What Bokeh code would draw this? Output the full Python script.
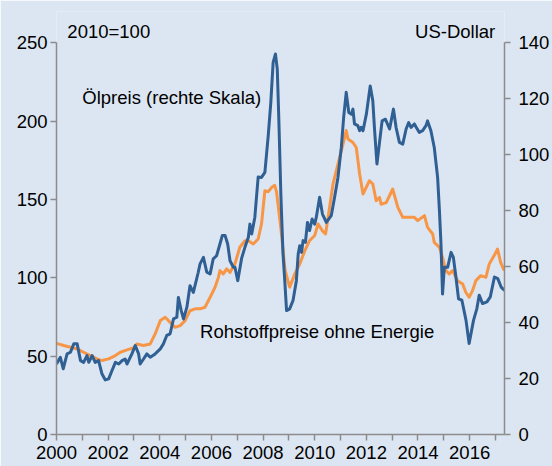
from bokeh.plotting import figure
from bokeh.models import Range1d, LinearAxis, FixedTicker, Label, NumeralTickFormatter
from bokeh.embed import file_html
from bokeh.resources import INLINE

# ---------------- data ----------------
# Rohstoffpreise ohne Energie (Index 2010=100, linke Skala)
t_rohstoff = [2000.00, 2000.28, 2000.54, 2000.80, 2001.05, 2001.31, 2001.57, 2001.76, 2002.02, 2002.28,
              2002.47, 2002.73, 2002.98, 2003.11, 2003.37, 2003.63, 2003.82, 2004.02, 2004.21, 2004.40,
              2004.59, 2004.79, 2004.98, 2005.17, 2005.37, 2005.56, 2005.75, 2005.95, 2006.14, 2006.27,
              2006.33, 2006.46, 2006.59, 2006.72, 2006.91, 2007.10, 2007.30, 2007.43, 2007.62, 2007.81,
              2007.94, 2008.07, 2008.20, 2008.35, 2008.45, 2008.52, 2008.70, 2008.85, 2009.03, 2009.23,
              2009.42, 2009.61, 2009.80, 2010.00, 2010.13, 2010.30, 2010.42, 2010.55, 2010.71, 2010.90,
              2011.09, 2011.22, 2011.29, 2011.48, 2011.61, 2011.74, 2011.87, 2012.12, 2012.25, 2012.38,
              2012.51, 2012.57, 2012.77, 2013.02, 2013.22, 2013.41, 2013.60, 2013.86, 2013.99, 2014.25,
              2014.37, 2014.57, 2014.63, 2014.83, 2014.95, 2015.08, 2015.21, 2015.34, 2015.53, 2015.73,
              2015.85, 2015.98, 2016.11, 2016.24, 2016.43, 2016.63, 2016.76, 2016.95, 2017.08, 2017.20,
              2017.34]
v_rohstoff = [58.2, 56.8, 55.7, 54.6, 52.5, 50.4, 48.3, 47.2, 48.3, 50.4,
              52.5, 54.0, 55.3, 57.8, 56.8, 57.8, 64.2, 72.7, 74.8, 71.6,
              68.4, 69.5, 72.7, 79.0, 80.2, 80.2, 81.2, 87.6, 94.0, 100.3,
              104.6, 102.5, 105.7, 103.5, 108.9, 119.5, 123.7, 123.7, 121.6, 124.8,
              134.5, 155.6, 155.0, 158.0, 159.0, 155.0, 130.0, 105.0, 94.0, 102.5,
              108.8, 117.0, 123.7, 127.0, 134.4, 130.0, 128.0, 142.0, 160.0, 172.6,
              185.0, 194.0, 188.6, 186.4, 183.2, 166.3, 153.5, 162.0, 159.9, 149.2,
              151.3, 147.0, 148.0, 156.7, 145.0, 138.6, 138.6, 138.6, 136.5, 139.7,
              132.2, 128.0, 122.6, 119.5, 113.0, 104.6, 102.5, 104.6, 98.2, 96.1,
              90.8, 87.6, 91.8, 98.2, 101.4, 100.3, 108.9, 114.2, 118.4, 109.9,
              104.6]

# Ölpreis (US-Dollar, rechte Skala)
t_oel = [2000.00, 2000.15, 2000.26, 2000.41, 2000.54, 2000.67, 2000.80, 2000.93, 2001.05, 2001.18,
         2001.25, 2001.38, 2001.50, 2001.63, 2001.76, 2001.89, 2002.02, 2002.15, 2002.28, 2002.41,
         2002.54, 2002.66, 2002.73, 2002.92, 2003.05, 2003.18, 2003.24, 2003.37, 2003.50, 2003.63,
         2003.82, 2004.02, 2004.14, 2004.27, 2004.40, 2004.53, 2004.66, 2004.72, 2004.83, 2004.92,
         2005.05, 2005.17, 2005.30, 2005.49, 2005.56, 2005.69, 2005.82, 2005.95, 2006.07, 2006.20,
         2006.33, 2006.42, 2006.53, 2006.63, 2006.72, 2006.85, 2006.91, 2007.02, 2007.17, 2007.30,
         2007.43, 2007.49, 2007.56, 2007.68, 2007.81, 2007.94, 2008.07, 2008.20, 2008.30, 2008.39,
         2008.48, 2008.55, 2008.61, 2008.69, 2008.77, 2008.84, 2008.91, 2009.03, 2009.16, 2009.29,
         2009.36, 2009.42, 2009.49, 2009.55, 2009.64, 2009.72, 2009.80, 2009.90, 2010.00, 2010.06,
         2010.19, 2010.30, 2010.45, 2010.64, 2010.77, 2010.90, 2011.03, 2011.12, 2011.22, 2011.32,
         2011.42, 2011.48, 2011.54, 2011.67, 2011.74, 2011.80, 2011.87, 2012.00, 2012.15, 2012.25,
         2012.32, 2012.41, 2012.51, 2012.61, 2012.74, 2012.90, 2013.05, 2013.15, 2013.28, 2013.41,
         2013.54, 2013.64, 2013.73, 2013.86, 2013.93, 2014.05, 2014.18, 2014.31, 2014.37, 2014.50,
         2014.63, 2014.76, 2014.83, 2014.89, 2014.95, 2015.02, 2015.15, 2015.28, 2015.37, 2015.47,
         2015.57, 2015.70, 2015.86, 2015.98, 2016.15, 2016.28, 2016.37, 2016.50, 2016.67, 2016.80,
         2016.96, 2017.09, 2017.22, 2017.35]
v_oel = [25.2, 27.6, 23.5, 28.8, 29.4, 32.4, 32.4, 26.4, 25.8, 28.2,
         25.8, 28.2, 25.8, 26.4, 21.7, 19.5, 19.9, 22.9, 25.8, 25.2,
         26.4, 27.0, 25.2, 28.8, 31.8, 28.8, 25.2, 27.0, 28.8, 27.6,
         28.8, 30.6, 32.4, 35.4, 36.0, 41.3, 41.9, 49.0, 44.3, 41.3,
         45.5, 53.2, 50.8, 58.0, 61.0, 63.3, 58.0, 57.4, 62.8, 63.9,
         68.1, 71.1, 71.1, 68.1, 62.1, 59.8, 59.8, 55.0, 63.0, 67.0,
         70.5, 75.2, 71.7, 77.6, 92.0, 91.9, 93.7, 106.8, 118.7, 133.0,
         136.0, 130.6, 112.8, 85.4, 65.0, 55.0, 44.3, 44.9, 47.9, 55.0,
         64.5, 67.5, 65.1, 69.3, 68.7, 75.8, 72.9, 77.0, 75.2, 77.6,
         84.8, 78.8, 75.8, 78.2, 84.8, 91.9, 102.6, 113.3, 122.3, 115.1,
         114.5, 116.3, 111.0, 110.4, 108.6, 109.8, 108.6, 114.5, 124.6, 119.3,
         108.6, 96.7, 104.4, 112.1, 112.7, 109.2, 116.3, 109.8, 104.4, 103.8,
         109.2, 111.5, 109.8, 111.0, 109.8, 108.0, 108.6, 110.4, 112.1, 108.6,
         102.6, 91.9, 80.0, 68.1, 50.2, 59.8, 59.8, 65.1, 63.3, 56.2,
         48.5, 48.0, 40.8, 32.5, 40.8, 45.0, 49.8, 46.8, 47.4, 49.2,
         56.3, 55.7, 52.7, 51.5]

x_major_ticks = [2000, 2002, 2004, 2006, 2008, 2010, 2012, 2014, 2016]
x_minor_ticks = [2001, 2003, 2005, 2007, 2009, 2011, 2013, 2015, 2017]
left_ticks = [0, 50, 100, 150, 200, 250]
right_ticks = [0, 20, 40, 60, 80, 100, 120, 140]

# ---------------- styling ----------------
BG = "#dce6f2"
AX = "#8c8c8c"
FONT = "Liberation Sans"
FS = "18.5px"
ORANGE = "#f79646"
BLUE = "#2f5f93"

LEFT_MAX, RIGHT_MAX = 250, 140
TOP_PAD = 1.08  # head-room above the axes for the unit labels

p = figure(width=552, height=466, output_backend="svg", toolbar_location=None,
           x_range=Range1d(2000, 2017.35), y_range=Range1d(0, LEFT_MAX * TOP_PAD),
           min_border_left=56, min_border_right=47, min_border_top=11, min_border_bottom=32,
           background_fill_color=BG, border_fill_color=BG, outline_line_color=None)
p.extra_y_ranges = {"usd": Range1d(0, RIGHT_MAX * TOP_PAD)}
p.grid.visible = False

p.line(t_rohstoff, v_rohstoff, line_color=ORANGE, line_width=3, line_join="round")
p.line(t_oel, v_oel, line_color=BLUE, line_width=3, line_join="round", y_range_name="usd")

right = LinearAxis(y_range_name="usd", ticker=FixedTicker(ticks=right_ticks), bounds=(0, RIGHT_MAX))
p.add_layout(right, "right")

p.xaxis.ticker = FixedTicker(ticks=x_major_ticks, minor_ticks=x_minor_ticks)
p.xaxis.formatter = NumeralTickFormatter(format="0")
p.yaxis[0].ticker = FixedTicker(ticks=left_ticks)
p.yaxis[0].bounds = (0, LEFT_MAX)

for ax in [p.xaxis[0], p.yaxis[0], right]:
    ax.axis_line_color = AX
    ax.axis_line_width = 1.5
    ax.major_tick_line_color = AX
    ax.major_tick_line_width = 1.5
    ax.minor_tick_line_color = AX
    ax.minor_tick_line_width = 1.5
    ax.major_tick_in = 0
    ax.major_tick_out = 6
    ax.minor_tick_in = 0
    ax.minor_tick_out = 6
    ax.major_label_text_font = FONT
    ax.major_label_text_font_size = FS
    ax.major_label_text_color = "#000000"
p.xaxis[0].major_label_standoff = 5
p.yaxis[0].major_label_standoff = 3
right.major_label_standoff = 8
p.yaxis[0].minor_tick_line_color = None
right.minor_tick_line_color = None

def add_label(x, y, text, align="left"):
    p.add_layout(Label(x=x, y=y, text=text, text_font=FONT, text_font_size=FS,
                       text_color="#000000", text_align=align, text_baseline="alphabetic"))

add_label(2000.42, 257, "2010=100")
add_label(2016.99, 257, "US-Dollar", align="right")
add_label(2001.0, 215, "Ölpreis (rechte Skala)")
add_label(2005.56, 65.5, "Rohstoffpreise ohne Energie")

open("out.html", "w").write(file_html(p, INLINE))
